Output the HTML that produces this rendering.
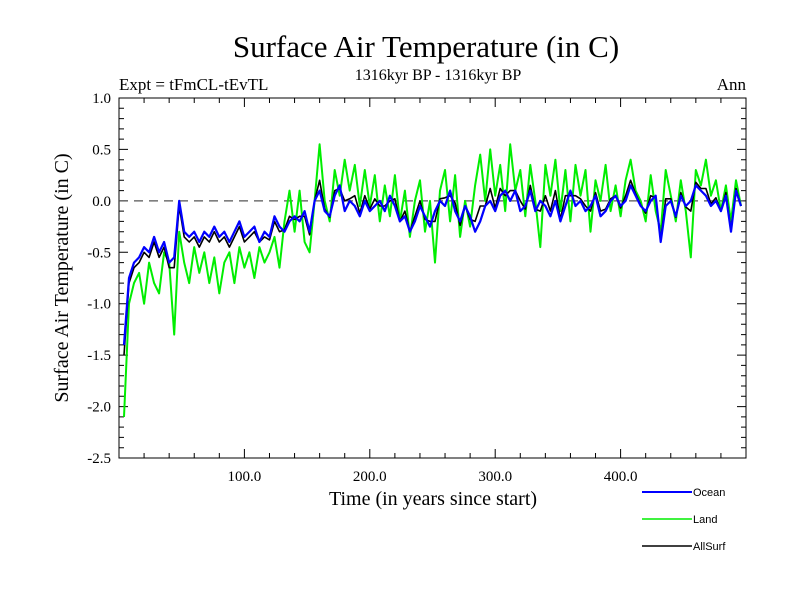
<!DOCTYPE html>
<html><head><meta charset="utf-8"><style>
body{margin:0;background:#fff}
svg{display:block}
text{font-family:"Liberation Serif",serif;fill:#000}
</style></head><body>
<svg id="chart" width="800" height="600" xmlns="http://www.w3.org/2000/svg">
<text x="426" y="57" font-size="31" text-anchor="middle">Surface Air Temperature (in C)</text>
<text x="119" y="90" font-size="17">Expt = tFmCL-tEvTL</text>
<text x="438" y="80" font-size="16" text-anchor="middle">1316kyr BP - 1316kyr BP</text>
<text x="746" y="90" font-size="17" text-anchor="end">Ann</text>
<text x="433" y="505" font-size="20" text-anchor="middle">Time (in years since start)</text>
<text transform="translate(68,278) rotate(-90)" font-size="20" text-anchor="middle">Surface Air Temperature (in C)</text>
<g id="ticks"></g>
<g id="series"></g>
<g font-family="Liberation Sans">
<line x1="642" y1="492" x2="692" y2="492" stroke="#0000ff" stroke-width="2"/>
<text x="693" y="496" font-size="11" style="font-family:'Liberation Sans',sans-serif">Ocean</text>
<line x1="642" y1="519" x2="692" y2="519" stroke="#00ee00" stroke-width="1.5"/>
<text x="693" y="523" font-size="11" style="font-family:'Liberation Sans',sans-serif">Land</text>
<line x1="642" y1="546" x2="692" y2="546" stroke="#000" stroke-width="1.5"/>
<text x="693" y="550" font-size="11" style="font-family:'Liberation Sans',sans-serif">AllSurf</text>
</g>
</svg>
<script>
const years=[];for(let y=4;y<=496;y+=4)years.push(y);
const ocean=[-1.4,-0.75,-0.6,-0.55,-0.45,-0.5,-0.35,-0.5,-0.4,-0.6,-0.55,0.0,-0.3,-0.35,-0.3,-0.4,-0.3,-0.35,-0.25,-0.35,-0.3,-0.4,-0.3,-0.2,-0.35,-0.3,-0.25,-0.4,-0.3,-0.35,-0.15,-0.25,-0.3,-0.2,-0.15,-0.2,-0.1,-0.3,0.0,0.1,-0.1,-0.15,0.05,0.15,-0.1,0.0,-0.05,-0.15,0.0,-0.1,-0.05,0.0,-0.1,0.05,-0.05,-0.2,-0.15,-0.3,-0.2,-0.05,-0.15,-0.25,-0.1,0.0,-0.05,0.1,-0.1,-0.2,-0.05,-0.15,-0.3,-0.2,-0.05,0.0,-0.1,0.05,0.1,0.0,0.1,-0.1,-0.05,0.1,-0.1,0.0,-0.05,-0.15,0.0,-0.2,-0.05,0.1,-0.05,0.0,-0.1,-0.05,0.05,-0.15,-0.1,0.0,0.05,-0.05,0.0,0.15,0.05,-0.05,-0.1,0.0,0.05,-0.4,-0.05,0.0,-0.15,0.05,-0.05,0.0,0.15,0.1,0.05,-0.05,0.0,-0.1,0.05,-0.3,0.1,-0.05];
const land=[-2.1,-1.0,-0.8,-0.7,-1.0,-0.6,-0.8,-0.9,-0.5,-0.6,-1.3,-0.3,-0.6,-0.8,-0.45,-0.7,-0.5,-0.8,-0.55,-0.9,-0.6,-0.5,-0.8,-0.45,-0.65,-0.5,-0.75,-0.45,-0.6,-0.5,-0.35,-0.65,-0.2,0.1,-0.3,0.1,-0.4,-0.5,0.0,0.55,0.0,-0.2,0.3,0.05,0.4,0.1,0.35,-0.05,0.3,-0.05,0.25,-0.2,0.15,-0.15,0.25,-0.2,0.1,-0.35,0.0,0.2,-0.3,0.0,-0.6,0.1,0.3,-0.2,0.25,-0.35,0.0,-0.25,0.15,0.45,0.0,0.5,0.05,0.35,-0.1,0.55,0.1,0.3,-0.15,0.35,0.0,-0.45,0.35,0.05,0.4,-0.1,0.3,-0.2,0.35,0.05,0.3,-0.3,0.2,0.0,0.35,-0.1,0.15,-0.15,0.2,0.4,0.1,0.0,-0.2,0.25,-0.1,-0.3,0.3,0.05,-0.2,0.2,-0.1,-0.55,0.3,0.15,0.4,0.05,0.2,-0.1,0.15,-0.2,0.2,-0.05];
const allsurf=[-1.5,-0.8,-0.65,-0.6,-0.5,-0.55,-0.4,-0.55,-0.45,-0.65,-0.65,-0.05,-0.35,-0.4,-0.35,-0.45,-0.35,-0.4,-0.3,-0.4,-0.35,-0.45,-0.35,-0.25,-0.4,-0.35,-0.3,-0.4,-0.35,-0.38,-0.2,-0.3,-0.28,-0.15,-0.18,-0.15,-0.15,-0.33,0.0,0.2,-0.08,-0.16,0.1,0.12,0.0,0.02,0.05,-0.12,0.05,-0.08,0.02,-0.05,-0.05,0.0,0.02,-0.2,-0.1,-0.3,-0.15,0.0,-0.18,-0.2,-0.2,0.02,0.03,0.05,-0.02,-0.24,-0.05,-0.18,-0.2,-0.05,-0.05,0.12,-0.07,0.12,0.05,0.1,0.1,0.0,-0.08,0.15,-0.08,-0.1,0.05,-0.1,0.1,-0.18,0.05,0.05,0.05,0.02,-0.05,-0.1,0.08,-0.1,-0.08,0.02,0.05,-0.07,0.05,0.2,0.07,-0.04,-0.12,0.05,0.03,-0.38,0.02,0.02,-0.16,0.08,-0.06,-0.1,0.18,0.12,0.12,-0.03,0.03,-0.1,0.08,-0.28,0.12,-0.05];
const yTickVals=[1.0,0.5,0.0,-0.5,-1.0,-1.5,-2.0,-2.5];
const yTickLabels=["1.0","0.5","0.0","-0.5","-1.0","-1.5","-2.0","-2.5"];
const xTickVals=[100,200,300,400];
const xTickLabels=["100.0","200.0","300.0","400.0"];
const L=119,R=746,T=98,B=458,X0=0,X1=500,Y0=-2.5,Y1=1.0;
const sx=v=>L+(v-X0)/(X1-X0)*(R-L);
const sy=v=>B-(v-Y0)/(Y1-Y0)*(B-T);
const NS="http://www.w3.org/2000/svg";
function mk(tag,at,parent){const e=document.createElementNS(NS,tag);for(const k in at)e.setAttribute(k,at[k]);parent.appendChild(e);return e;}
const tg=document.getElementById('ticks');
const frame=mk('rect',{x:L,y:T,width:R-L,height:B-T,fill:'none',stroke:'#000','stroke-width':1},tg);


let p='';
for(let i=0;i<=35;i++){const v=Y0+i*0.1;const y=sy(v);const len=(i%5===0)?9:5;p+=`M${L} ${y}h${len}M${R} ${y}h${-len}`;}
for(let v=20;v<500;v+=20){const x=sx(v);const len=(v%100===0)?9:5;p+=`M${x} ${B}v${-len}M${x} ${T}v${len}`;}
const tk=mk('path',{d:p,stroke:'#000','stroke-width':1,fill:'none'},tg);


yTickVals.forEach((v,i)=>{const t=mk('text',{x:L-8,y:sy(v)+5,'font-size':15,'text-anchor':'end'},tg);t.textContent=yTickLabels[i];

});
xTickVals.forEach((v,i)=>{const t=mk('text',{x:sx(v),y:B+23,'font-size':15,'text-anchor':'middle'},tg);t.textContent=xTickLabels[i];

});
const zl=mk('line',{x1:L,x2:R,y1:sy(0),y2:sy(0),stroke:'#555','stroke-width':1.2,'stroke-dasharray':'9,6'},tg);


const sg=document.getElementById('series');
function line(arr,color,w,name){const d=arr.map((v,i)=>(i?'L':'M')+sx(years[i]).toFixed(1)+' '+sy(v).toFixed(1)).join('');
const e=mk('path',{d:d,stroke:color,'stroke-width':w,fill:'none','stroke-linejoin':'round'},sg);

}
line(land,'#00ee00',2,'land-line');
line(allsurf,'#000','1.6','allsurf-line');
line(ocean,'#0000ff',2.2,'ocean-line');
</script>
</body></html>
